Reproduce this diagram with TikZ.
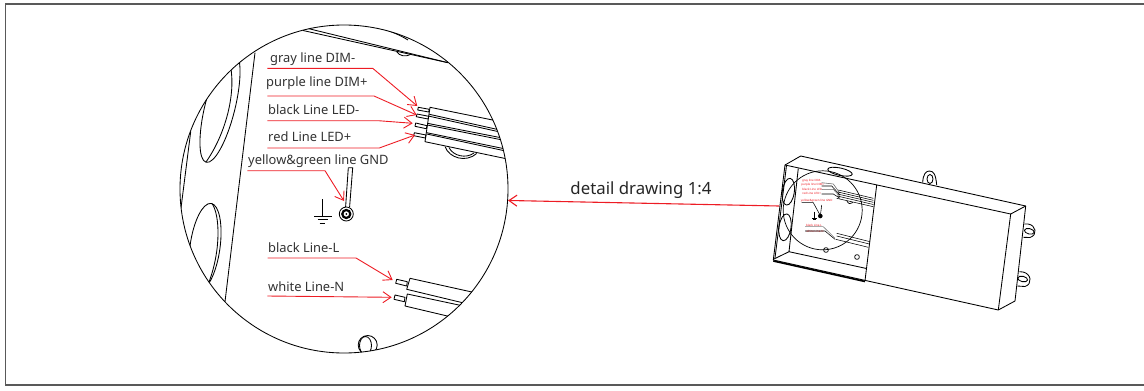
\documentclass[tikz,border=0pt]{standalone}
\usepackage{fontspec}
\setmainfont{Noto Sans}
\usetikzlibrary{arrows.meta}
\definecolor{leadred}{RGB}{237,28,36}
\tikzset{
  wire/.style={line width=.85pt, line join=round},
  thinwire/.style={line width=.7pt, line join=round},
  leader/.style={leadred, line width=.9pt},
  leadarrow/.style={leader, -{Straight Barb[length=8pt,width=11pt]}},
  label/.style={right, inner sep=0pt, text=black!80, font=\fontsize{12.9}{15}\selectfont},
  minilabel/.style={inner sep=0pt, text=leadred, font=\fontsize{2.9}{3}\selectfont},
  miniwire/.style={line width=.55pt}
}
\begin{document}
\begin{tikzpicture}[x=1pt, y=-1pt]
        \useasboundingbox (0,0) rectangle (1144,391);
        \draw [line width=1.2pt, black!65] (1146,4)--(5.5,4)--(5.5,385)--(1146,385);
        % detail circle
        \node [circle, draw, wire, minimum size=328pt, inner sep=0pt] (detail) at (344,189) {};
        \begin{scope}
          \clip (344,189) circle [radius=164];
          \draw [wire] (255,52.7)--(225,301.7);
          \draw [wire] (190.7,131.7)--(181,208);
          \draw [wire] (220,107) ellipse [x radius=15, y radius=57, rotate=-14];
          \draw [wire] (230.5,66) .. controls (236,95) and (225,135) .. (206,162);
          \draw [wire] (205,247) ellipse [x radius=15, y radius=44, rotate=-8];
          \draw [wire] (212,203.5) .. controls (220,215) and (221,250) .. (209,282);
          \draw [wire] (367.7,345) circle [radius=9.5];
          \draw [wire] (365.5,345.5) ellipse [x radius=6, y radius=9];
          % top edge
          \draw [wire] (303,30.5)--(447,62.5);
          \draw [wire] (308,28.5)--(448,62.7);
          \draw [wire] (383,29) .. controls (390,31) and (400,35) .. (408,40);
          \draw [wire] (396.7,51.7) .. controls (399,56) and (406,57) .. (410,54.7);
          % LED wires
          \draw [wire] (418.3,107.3)--(429.3,109.3)--(428.7,112)--(417.7,110)--cycle;
          \draw [wire] (417,114)--(428.7,116.3)--(428,119)--(416.3,116.7)--cycle;
          \draw [wire] (415.7,123)--(427,125.7)--(426.3,128.7)--(415,126.3)--cycle;
          \draw [wire] (414.3,132.7)--(426,135)--(425.3,138)--(413.7,135.7)--cycle;
          \draw [wire] (499,121.3)--(430,107.3)--(425,141.7)--(510,159.5);
          \draw [wire] (429.3,114.3)--(500,130);
          \draw [wire] (428.3,116)--(500,132);
          \draw [wire] (427.3,123.3)--(505,138.5);
          \draw [wire] (427.3,125)--(505,140.5);
          \draw [wire] (426.7,132.7)--(508,149.5);
          \draw [wire] (426.7,134)--(508,151.5);
          \draw [wire] (445,146.5) .. controls (449,158) and (466,163) .. (476.7,153.5);
          \draw [wire] (449,147.5) .. controls (453,156) and (466,159) .. (474,153);
          % mains wires
          \draw [wire] (396.7,279.3)--(407.3,281.7)--(406.7,286)--(395.7,283.3)--cycle;
          \draw [wire] (395,295)--(405,297.3)--(404.3,301.7)--(394,299.3)--cycle;
          \draw [wire] (480,293.8)--(410,278.3)--(406.7,289.3)--(470,304.5);
          \draw [wire] (470,307.4)--(407.3,294)--(405,306)--(460,319);
        \end{scope}
        % earth
        \draw [wire] (348.3,167.7)--(352.7,167.7)--(349.6,207);
        \draw [wire] (348.3,167.7)--(345.6,207);
        \draw [wire] (346.3,214) circle [radius=7];
        \draw [line width=2.2pt] (346.3,214) circle [radius=4];
        \fill (346.3,214) circle [radius=1];
        \draw [wire] (322.7,199.3)--(322.7,216);
        \draw [wire] (314,216)--(331.7,216);
        \draw [wire] (317.7,219.7)--(327.7,219.7);
        \draw [wire] (319.7,223.7)--(325.3,223.7);
        % labels
        \node [label] (graydim) at (270,59) {gray line DIM-};
        \node [label] (purpledim) at (266,83) {purple line DIM+};
        \node [label] (blackled) at (268,110) {black Line LED-};
        \node [label] (redled) at (268,137) {red Line LED+};
        \node [label] (gnd) at (248,161) {yellow\&green line GND};
        \node [label] (blackl) at (268,248) {black Line-L};
        \node [label] (whiten) at (268,287) {white Line-N};
        \coordinate (graytip) at (417.3,106);
        \coordinate (purpletip) at (416.7,115);
        \coordinate (blacktip) at (412.7,123.3);
        \coordinate (redtip) at (415,135);
        \coordinate (gndtip) at (344,201);
        \coordinate (ltip) at (392.7,280);
        \coordinate (ntip) at (391.7,297.3);
        \draw [leadarrow] (267.3,68.3)--(372.7,68.3)--(graytip);
        \draw [leadarrow] (267.3,96)--(374,96)--(purpletip);
        \draw [leadarrow] (267.3,120.7)--(378.3,120.7)--(blacktip);
        \draw [leadarrow] (267.3,148)--(379.3,148)--(redtip);
        \draw [leadarrow] (247.3,170.7)--(325,170.7)--(gndtip);
        \draw [leadarrow] (267.7,258)--(356,258)--(ltip);
        \draw [leadarrow] (267.3,296)--(ntip);
        % box
        \draw [wire] (785,165)--(800.7,156)--(1025.7,206)--(1015,301)--(998.3,310)--(773.3,260)--cycle;
        \draw [wire] (785,165)--(1010.7,214)--(1025.7,206);
        \draw [wire] (1010.7,214)--(998.3,310);
        \draw [wire] (786.5,165.5)--(775,258);
        \draw [wire] (798.3,168.3)--(789,251.7)--(866.5,268.5);
        \draw [wire] (774,259)--(789,251.7);
        \draw [line width=1.6pt] (773.3,261)--(865,281.5);
        \draw [wire] (876.7,185)--(865,280.7);
        \draw [wire] (788.3,191.7) ellipse [x radius=6, y radius=13.5, rotate=-8];
        \draw [wire] (785,227.3) ellipse [x radius=6, y radius=13.5, rotate=-8];
        \draw [wire] (840,171.7) ellipse [x radius=12.5, y radius=3.7, rotate=-12];
        \draw [wire] (922.7,182.7) .. controls (923,174) and (926,171) .. (929.5,171) .. controls (934,171) and (935.7,175) .. (936.7,185);
        \draw [wire] (930,179) ellipse [x radius=3, y radius=4.5];
        \draw [wire] (1024.3,224)--(1028,224) .. controls (1036,225) and (1038,235) .. (1030,237.5)--(1023.3,237.3);
        \draw [wire] (1029.3,231.3) ellipse [x radius=5, y radius=2.7, rotate=-13];
        \draw [wire] (1019.3,271.7)--(1023,272) .. controls (1031,273.5) and (1033,284) .. (1025,286.5)--(1017.3,286);
        \draw [wire] (1022.7,279) ellipse [x radius=5, y radius=2.7, rotate=-13];
        % miniature of the detail
        \node [circle, draw, thinwire, minimum size=79pt, inner sep=0pt] (mini) at (822.7,210.3) {};
        \draw [thinwire] (826,250) circle [radius=2.4];
        \draw [thinwire] (857,257) circle [radius=2.4];
        \draw [thinwire] (847,201) .. controls (848,204) and (851,204.5) .. (853,202.5);
        \node [minilabel] (minigray) at (811.7,181) {gray line DIM-};
        \node [minilabel] (minipurple) at (812.7,185) {purple line DIM+};
        \node [minilabel] (miniblack) at (812.7,189) {black Line LED-};
        \node [minilabel] (minired) at (811.7,193.7) {red Line LED+};
        \node [minilabel] (minignd) at (816.7,200.7) {yellow\&green line GND};
        \node [minilabel] (miniblackl) at (814,225) {black Line-L};
        \node [minilabel] (miniwhiten) at (815,231.3) {white Line-N};
        \draw [miniwire, black!60] (821.7,182.7)--(833.3,184)--(840,193.3);
        \draw [miniwire] (821.7,186)--(831.7,186)--(840,195);
        \draw [miniwire, black!60] (821.7,189.3)--(833.3,189.3)--(840,196.7);
        \draw [miniwire] (821.7,194)--(833.3,194)--(840,198.3);
        \draw [miniwire] (838.3,190)--(873.3,198.3);
        \draw [miniwire] (838,192)--(873.3,200.3);
        \draw [miniwire] (837.6,194)--(873.3,202.3);
        \draw [miniwire] (837.2,196)--(873.3,204.5);
        \draw [miniwire] (836.7,198.3)--(873.3,206.7);
        \draw [miniwire] (801.7,202.7)--(813.3,202.7)--(820,215);
        \draw [miniwire] (821.7,205)--(820.3,216);
        \fill (820.3,216) circle [radius=2.3];
        \draw [miniwire] (814.3,211.7)--(814.3,218);
        \draw [miniwire] (812,218)--(816.6,218);
        \draw [miniwire] (813,219.5)--(815.6,219.5);
        \draw [miniwire, black!50] (805,226.7)--(823.3,226.7)--(835,238.3);
        \draw [miniwire] (805,231)--(825,231)--(835,239.3);
        \draw [miniwire] (836.7,233.3)--(870,241.7);
        \draw [miniwire] (836.7,236)--(869.3,244);
        \draw [miniwire] (835.7,239.3)--(868.3,247.3);
        % main arrow
        \coordinate (boxedge) at (779,206);
        \draw [leadarrow, line width=1.1pt] (boxedge)--(detail.-4);
        \node [inner sep=0pt, text=black!85, font=\fontsize{16.8}{20}\selectfont] (scalenote) at (641,190) {detail drawing 1:4};
      \end{tikzpicture}
\end{document}
